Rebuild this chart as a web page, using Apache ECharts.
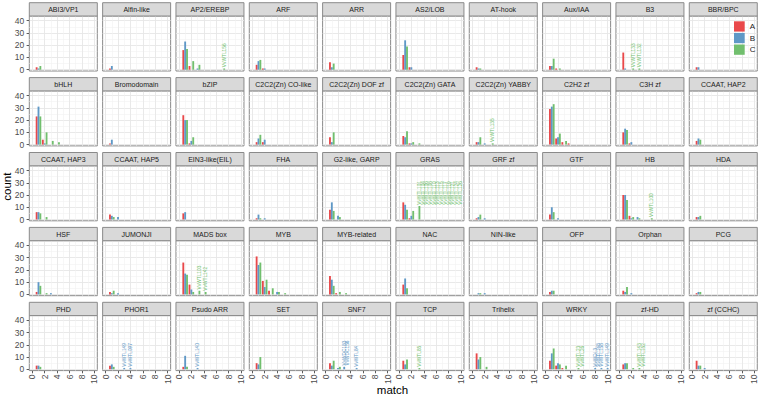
<!DOCTYPE html>
<html><head><meta charset="utf-8">
<script src="https://cdn.jsdelivr.net/npm/echarts@6.0.0/dist/echarts.min.js"></script>
<style>html,body{margin:0;padding:0;background:#fff}#c{width:760px;height:401px}</style>
</head><body><div id="c"></div>
<script>
// ---------- data ----------
const panels = [
  "ABI3/VP1","Alfin-like","AP2/EREBP","ARF","ARR","AS2/LOB","AT-hook","Aux/IAA","B3","BBR/BPC",
  "bHLH","Bromodomain","bZIP","C2C2(Zn) CO-like","C2C2(Zn) DOF zf","C2C2(Zn) GATA","C2C2(Zn) YABBY","C2H2 zf","C3H zf","CCAAT, HAP2",
  "CCAAT, HAP3","CCAAT, HAP5","EIN3-like(EIL)","FHA","G2-like, GARP","GRAS","GRF zf","GTF","HB","HDA",
  "HSF","JUMONJI","MADS box","MYB","MYB-related","NAC","NIN-like","OFP","Orphan","PCG",
  "PHD","PHOR1","Psudo ARR","SET","SNF7","TCP","Trihelix","WRKY","zf-HD","zf (CCHC)"
];
// counts per match value (index 0 -> match 1)
const countsA = [
  [2],[1],[16,3],[4,1],[6],[12,2],[2],[3,1],[14],[2],
  [23,4],[1],[24,1],[2,2],[6],[7,1],[2],[29,5,2,1],[10,1],[3],
  [6],[4],[5],[1],[8],[14,1],[1],[4],[20,3],[2],
  [2],[2],[26,8],[31,11,3],[15,1],[8],[0],[2],[3],[1],
  [3],[3],[2],[5],[5],[7],[13],[7,3,1],[4],[7]
];
const countsB = [
  [1],[3],[23,0,1],[7,1],[2],[24,2],[1],[3],[1],[2],
  [31,1],[4],[20,3],[5,4],[2],[6,1],[2,1],[31,6],[13,2],[5],
  [6],[3,2],[6],[4,1],[14,3],[12,3],[2,1],[10,1],[20,1,2],[2],
  [10,0,1],[1,1],[17,4],[24,6,0,2],[12],[13],[1,1],[3],[2,1],[2],
  [3],[4,0,1,1],[11,0,1],[4],[3,1,2,0,1],[4],[8],[13,5,0,0,0,0,0,1,1,1],[5],[3,1]
];
const countsC = [
  [3],[0],[17,7,4,0,0,0,1],[8],[5],[19],[1],[9,1],[0,1,1],[0],
  [23,10,3,2],[0],[20,6],[8],[10],[11,2,1],[6,0,1],[33,9,3],[12],[4],
  [5,2],[2],[0],[1],[7,2],[8,7,11],[4],[6],[16,2,1,0,1],[3],
  [7,1],[3],[16,2,3,2],[26,12,5,2,1],[7,2,1],[5],[1],[3],[6],[2],
  [2],[2],[2],[10],[7,2],[8,0,1],[10,2],[17,4,3,0,1],[5,1,1],[3]
];
// gene labels written above single bars
const labelPanel = [2, 8, 8, 16, 25, 28, 32, 32, 41, 41, 42, 44, 44, 45, 47, 47, 47, 47, 48];
const labelGroup = ["C","C","C","C","C","C","C","C","B","B","B","B","B","C","C","B","B","B","C"];
const labelMatch = [7, 2, 3, 3, 3, 5, 3, 4, 3, 4, 3, 3, 5, 3, 5, 8, 9, 10, 3];
const labelText = [
  "VvWTL156","VvWTL133","VvWTL132","VvWTL135",
  "VvWTL101\nVvWTL104\nVvWTL106\nVvWTL108\nVvWTL110\nVvWTL113\nVvWTL115\nVvWTL117\nVvWTL119\nVvWTL121\nVvWTL124\nVvWTL126",
  "VvWTL100","VvWTL103","VvWTL142","VvWTL149","VvWTL097","VvWTL140",
  "VvWDC183\nVvWDC156","VvWTL84","VvWTL85","VvWTL23\nVvWTL26",
  "VvWDL3\nVvWTL148","VvWTL158","VvWTL149","VvWTL143\nVvWTL152"
];
const groups = ["A","B","C"];
const xTickValues = [0, 2, 4, 6, 8, 10];
const yTickValues = [0, 10, 20, 30, 40];

// ---------- styling / layout ----------
const colors = ["#E9484A", "#5F98C6", "#71BF6E"];
const FONT = "Liberation Sans, Arial, Helvetica, sans-serif";
const NCOL = 10;
const colLeft = c => 29.3 + c * 73.33;
const stripTop = r => 2.7 + r * 74.9;
const PW = 68, SH = 13.3, PH = 55;
const XPAD = 3, XUNIT = 6.2, YZERO = 53.7, YUNIT = 1.225;
const LH = 3.7;

const grids = [], xAxes = [], yAxes = [], series = [], graphics = [];
const nRows = Math.ceil(panels.length / NCOL);

panels.forEach((name, p) => {
  const c = p % NCOL, r = Math.floor(p / NCOL);
  const left = colLeft(c), st = stripTop(r), top = st + SH;
  const isBottom = r === nRows - 1, isLeft = c === 0;
  const gA = grids.length;
  // data grid (full panel)
  grids.push({left: left, top: top, width: PW, height: PH, show: true,
    backgroundColor: "transparent", borderColor: "#8a8a8a", borderWidth: 1, containLabel: false});
  // vertical grid lines grid
  grids.push({left: left + XPAD, top: top, width: XUNIT * 10, height: PH, show: false});
  // horizontal grid lines grid
  grids.push({left: left, top: top + YZERO - 40 * YUNIT, width: PW, height: 40 * YUNIT, show: false});

  xAxes.push({gridIndex: gA, type: "value", min: -XPAD / XUNIT, max: 10 + (PW - XPAD - 10 * XUNIT) / XUNIT, show: false});
  yAxes.push({gridIndex: gA, type: "value", min: -(PH - YZERO) / YUNIT, max: YZERO / YUNIT, show: false});

  xAxes.push({gridIndex: gA + 1, type: "value", min: xTickValues[0], max: xTickValues[xTickValues.length - 1], interval: 2,
    axisLine: {show: false},
    axisTick: {show: isBottom, length: 2.7, lineStyle: {color: "#333", width: 0.8}},
    axisLabel: {show: isBottom, rotate: 90, margin: 4, fontSize: 8.5, color: "#4d4d4d", fontFamily: FONT},
    splitLine: {show: true, lineStyle: {color: "#e6e6e6", width: 0.9}},
    minorTick: {show: false, splitNumber: 2},
    minorSplitLine: {show: true, lineStyle: {color: "#f1f1f1", width: 0.6}}});
  yAxes.push({gridIndex: gA + 1, type: "value", min: 0, max: 1, show: false});

  xAxes.push({gridIndex: gA + 2, type: "value", min: 0, max: 1, show: false});
  yAxes.push({gridIndex: gA + 2, type: "value", min: yTickValues[0], max: yTickValues[yTickValues.length - 1], interval: 10,
    axisLine: {show: false},
    axisTick: {show: isLeft, length: 2.7, lineStyle: {color: "#333", width: 0.8}},
    axisLabel: {show: isLeft, margin: 5, fontSize: 8.5, color: "#4d4d4d", fontFamily: FONT},
    splitLine: {show: true, lineStyle: {color: "#e6e6e6", width: 0.9}},
    minorTick: {show: false, splitNumber: 2},
    minorSplitLine: {show: true, lineStyle: {color: "#f1f1f1", width: 0.6}}});

  // strip
  graphics.push({type: "rect", z: 10, shape: {x: left, y: st, width: PW, height: SH},
    style: {fill: "#d9d9d9", stroke: "#8a8a8a", lineWidth: 1}});
  graphics.push({type: "text", z: 11, x: left + PW / 2, y: st + SH / 2 + 0.3,
    style: {text: name, fill: "#1a1a1a", fontSize: 7, fontFamily: FONT, align: "center", verticalAlign: "middle"}});

  const all = [countsA, countsB, countsC];
  groups.forEach((g, gi) => {
    const off = (gi - 1) * 0.3;
    const labs = {};
    labelPanel.forEach((lp, k) => { if (lp === p && labelGroup[k] === g) labs[labelMatch[k]] = labelText[k]; });
    const data = all[gi][p].map((v, i) => [i + 1, v]).filter(d => d[1] > 0);
    series.push({
      type: "custom", name: g, xAxisIndex: gA, yAxisIndex: gA, z: 3,
      itemStyle: {color: colors[gi]},
      data: data, clip: false,
      renderItem: function (params, api) {
        const m = api.value(0), v = api.value(1);
        const p0 = api.coord([m + off - 0.15, v]);
        const p1 = api.coord([m + off + 0.15, 0]);
        const children = [{type: "rect", shape: {x: p0[0], y: p0[1], width: p1[0] - p0[0], height: p1[1] - p0[1]},
          style: {fill: colors[gi]}}];
        const lab = labs[m];
        if (lab) {
          const t = api.coord([m + off, v]);
          children.push({type: "text", x: t[0], y: t[1] - 1.3, rotation: Math.PI / 2,
            style: {text: lab, x: 0, y: -LH / 2, fill: colors[gi], fontSize: 4.8, lineHeight: LH,
              fontFamily: FONT, align: "left", verticalAlign: "top"}});
        }
        return {type: "group", children: children};
      }
    });
  });
});

// axis titles
graphics.push({type: "text", x: 6.7, y: 186.7, rotation: Math.PI / 2,
  style: {text: "count", fill: "#000", fontSize: 11.5, fontFamily: FONT, align: "center", verticalAlign: "middle"}});
graphics.push({type: "text", x: 392.5, y: 390, 
  style: {text: "match", fill: "#000", fontSize: 11.5, fontFamily: FONT, align: "center", verticalAlign: "middle"}});

const chart = echarts.init(document.getElementById("c"), null, {renderer: "svg", width: 760, height: 401});
chart.setOption({
  animation: false,
  backgroundColor: "#fff",
  grid: grids, xAxis: xAxes, yAxis: yAxes, series: series,
  graphic: {elements: graphics},
  legend: {data: groups, orient: "vertical", left: 734, top: 21.3, itemWidth: 10.7, itemHeight: 10.3, itemGap: 1.3,
    icon: "rect", selectedMode: false, padding: 0,
    textStyle: {fontSize: 8, color: "#1a1a1a", fontFamily: FONT}}
});
</script></body></html>
